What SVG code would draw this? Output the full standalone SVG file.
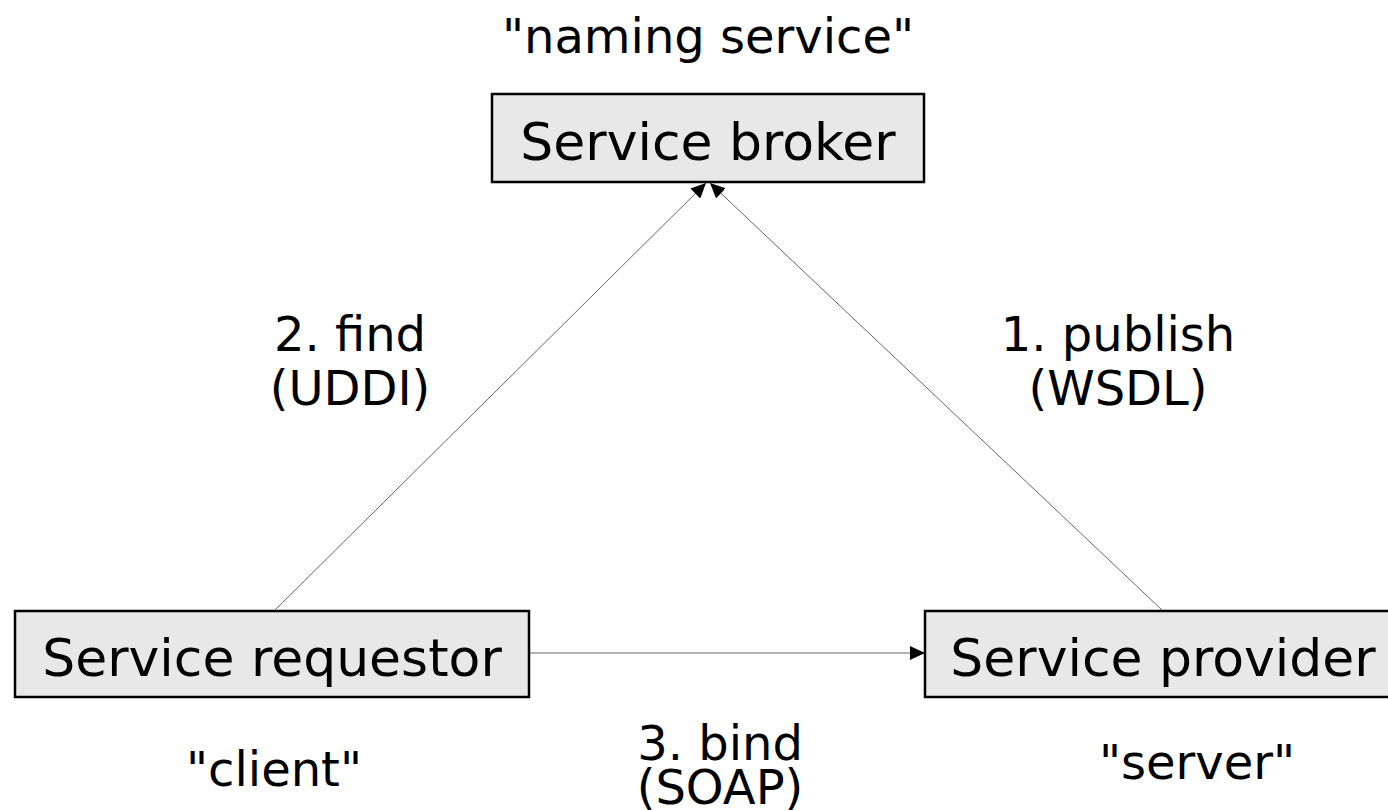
<svg xmlns="http://www.w3.org/2000/svg" width="1388" height="810" viewBox="0 0 1388 810">
<style>
.box{fill:#e8e8e8;stroke:#000;stroke-width:2.5}
.nt{font-family:"DejaVu Sans",Verdana,sans-serif;font-size:52px;fill:#000;text-anchor:middle}
.lb{font-family:"DejaVu Sans",Verdana,sans-serif;font-size:48px;fill:#000;text-anchor:middle}
.edge{stroke:#666;stroke-width:1;fill:none}
</style>
<defs>
<marker id="ah" markerUnits="userSpaceOnUse" markerWidth="16" markerHeight="14" refX="15" refY="7" orient="auto">
<path d="M0,0 L15,7 L0,14 z" fill="#000"/>
</marker>
</defs>
<rect width="1388" height="810" fill="#fff"/>
<g id="connectors">
<line class="edge" x1="274" y1="611" x2="706" y2="183" marker-end="url(#ah)"/>
<line class="edge" x1="1163" y1="611" x2="710" y2="183" marker-end="url(#ah)"/>
<line class="edge" x1="529" y1="653" x2="925" y2="653" marker-end="url(#ah)" stroke="#999"/>
</g>
<g id="broker">
<rect class="box" x="492" y="94" width="432" height="88"/>
<text class="nt" x="708" y="160">Service broker</text>
</g>
<g id="requestor">
<rect class="box" x="15" y="611" width="514" height="86"/>
<text class="nt" x="272" y="676">Service requestor</text>
</g>
<g id="provider">
<rect class="box" x="925" y="611" width="476" height="86"/>
<text class="nt" x="1163" y="676">Service provider</text>
</g>
<g id="labels">
<text class="lb" x="708" y="53">"naming service"</text>
<text class="lb" x="350" y="351">2. find</text>
<text class="lb" x="350" y="405">(UDDI)</text>
<text class="lb" x="1118" y="351">1. publish</text>
<text class="lb" x="1118" y="405">(WSDL)</text>
<text class="lb" x="720" y="760">3. bind</text>
<text class="lb" x="720" y="804">(SOAP)</text>
<text class="lb" x="274" y="786">"client"</text>
<text class="lb" x="1197" y="779">"server"</text>
</g>
</svg>
